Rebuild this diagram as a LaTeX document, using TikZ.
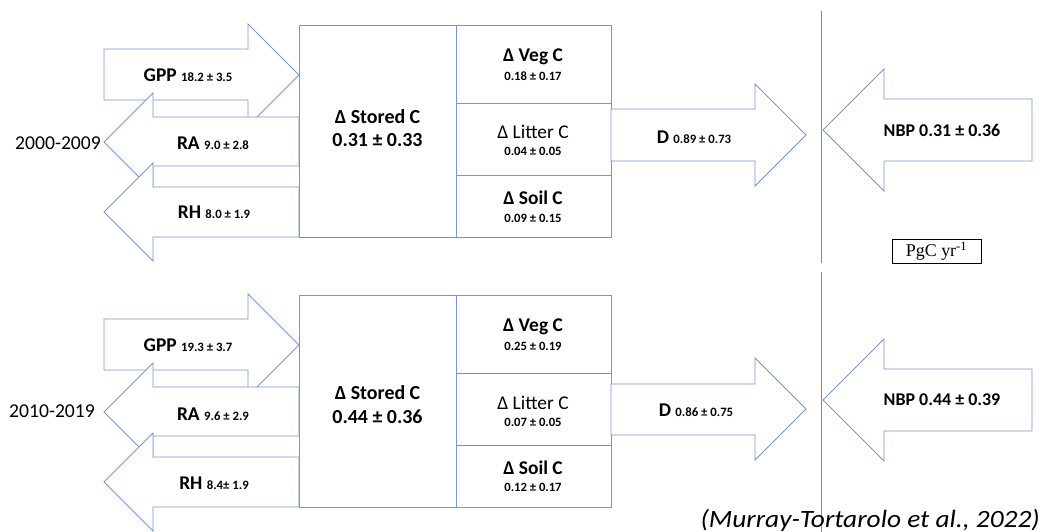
\documentclass[tikz,border=0pt]{standalone}
\usepackage{fontspec}
\setmainfont{Carlito}
\newfontfamily\timesfont{Liberation Serif}
\definecolor{lineblue}{RGB}{118,148,214}
\definecolor{vblue}{RGB}{110,142,214}
\tikzset{
  flow/.style={draw=lineblue, fill=white, line width=0.9bp, line join=miter},
  cell/.style={draw=lineblue, line width=0.9bp},
  sepline/.style={draw=vblue, line width=0.9bp},
  lbl/.style={inner sep=0pt, font=\fontsize{19.5}{21}\selectfont\bfseries},
  lblbig/.style={inner sep=0pt, font=\fontsize{20}{22}\selectfont\bfseries},
  lblreg/.style={inner sep=0pt, font=\fontsize{19.5}{21}\selectfont},
  val/.style={inner sep=0pt, font=\fontsize{12.7}{14}\selectfont\bfseries},
  year/.style={inner sep=0pt, font=\fontsize{19.7}{21}\selectfont},
  nbplbl/.style={inner sep=0pt, font=\fontsize{18}{20}\selectfont\bfseries},
}
\newcommand{\smallv}[1]{{\fontsize{12.8}{14}\selectfont #1}}
\begin{document}
\begin{tikzpicture}[x=1bp,y=-1bp]
\useasboundingbox (0,0) rectangle (1044,532);
% separator line
\draw[sepline] (821,11) coordinate (s1) -- (821,263) coordinate (s2);
\draw[sepline] (821,272) coordinate (s3) -- (821,532) coordinate (s4);

% ================= TOP (2000-2009) =================
\draw[flow] (104,49) -- (248,49) -- (248,24) -- (299,75) -- (248,126) -- (248,100) -- (104,100) -- cycle;
\draw[flow] (104,142) -- (153,93) -- (153,117) -- (299,117) -- (299,166) -- (153,166) -- (153,191) -- cycle;
\draw[flow] (104,212) -- (153,163) -- (153,187) -- (299,187) -- (299,237) -- (153,237) -- (153,261) -- cycle;
\draw[cell] (299,25) rectangle (456,237);
\draw[cell] (456,25) rectangle (611,237);
\draw[cell] (456,103) -- (611,103);
\draw[cell] (456,175) -- (611,175);
\draw[flow] (611,109) -- (755,109) -- (755,84) -- (806,135) -- (755,186) -- (755,161) -- (611,161) -- cycle;
\draw[flow] (823,130) -- (884,69) -- (884,99) -- (1032,99) -- (1032,161) -- (884,161) -- (884,191) -- cycle;

\node[lbl] (gppA) at (188,75) {GPP \smallv{18.2 ± 3.5}};
\node[lbl] (raA) at (213,143) {RA \smallv{9.0 ± 2.8}};
\node[lbl] (rhA) at (214,212) {RH \smallv{8.0 ± 1.9}};
\node[year] (yearA) at (58,143) {2000-2009};
\node[lblbig] (stA1) at (377.5,117) {Δ Stored C};
\node[lblbig] (stA2) at (377.5,140) {0.31 ± 0.33};
\node[lbl] (vegA1) at (533,57) {Δ Veg C};
\node[val] (vegA2) at (533,76) {0.18 ± 0.17};
\node[lblreg] (litA1) at (533,132) {Δ Litter C};
\node[val] (litA2) at (533,151) {0.04 ± 0.05};
\node[lbl] (soilA1) at (533,198) {Δ Soil C};
\node[val] (soilA2) at (533,218) {0.09 ± 0.15};
\node[lbl] (dA) at (694,137) {D \smallv{0.89 ± 0.73}};
\node[nbplbl] (nbpA) at (942,130) {NBP 0.31 ± 0.36};

% unit box
\node[draw=black, line width=0.6bp, minimum width=89bp, minimum height=24bp, inner sep=0pt,
      font=\timesfont\fontsize{18}{20}\selectfont] (unit) at (936.5,251) {PgC yr\textsuperscript{-1}};

% ================= BOTTOM (2010-2019) =================
\draw[flow] (104,319) -- (248,319) -- (248,294) -- (299,345) -- (248,396) -- (248,370) -- (104,370) -- cycle;
\draw[flow] (104,412) -- (153,363) -- (153,387) -- (299,387) -- (299,436) -- (153,436) -- (153,461) -- cycle;
\draw[flow] (104,482) -- (153,433) -- (153,457) -- (299,457) -- (299,507) -- (153,507) -- (153,531) -- cycle;
\draw[cell] (299,295) rectangle (456,507);
\draw[cell] (456,295) rectangle (611,507);
\draw[cell] (456,373) -- (611,373);
\draw[cell] (456,445) -- (611,445);
\draw[flow] (611,384) -- (755,384) -- (755,358) -- (806,409) -- (755,460) -- (755,435) -- (611,435) -- cycle;
\draw[flow] (823,400) -- (884,339) -- (884,369) -- (1032,369) -- (1032,431) -- (884,431) -- (884,461) -- cycle;

\node[lbl] (gppB) at (188,345) {GPP \smallv{19.3 ± 3.7}};
\node[lbl] (raB) at (213,414) {RA \smallv{9.6 ± 2.9}};
\node[lbl] (rhB) at (214,483) {RH \smallv{8.4± 1.9}};
\node[year] (yearB) at (52,411) {2010-2019};
\node[lblbig] (stB1) at (377.5,393) {Δ Stored C};
\node[lblbig] (stB2) at (377.5,417) {0.44 ± 0.36};
\node[lbl] (vegB1) at (533,327) {Δ Veg C};
\node[val] (vegB2) at (533,346) {0.25 ± 0.19};
\node[lblreg] (litB1) at (533,403) {Δ Litter C};
\node[val] (litB2) at (533,422) {0.07 ± 0.05};
\node[lbl] (soilB1) at (533,468) {Δ Soil C};
\node[val] (soilB2) at (533,487) {0.12 ± 0.17};
\node[lbl] (dB) at (696,410) {D \smallv{0.86 ± 0.75}};
\node[nbplbl] (nbpB) at (942,400) {NBP 0.44 ± 0.39};

% citation
\node[inner sep=0pt, anchor=base east, font=\fontsize{25}{27}\selectfont\itshape] (cite) at (1040,527) {\scalebox{1.1}[1]{(Murray-Tortarolo et al., 2022)}};
\end{tikzpicture}
\end{document}
